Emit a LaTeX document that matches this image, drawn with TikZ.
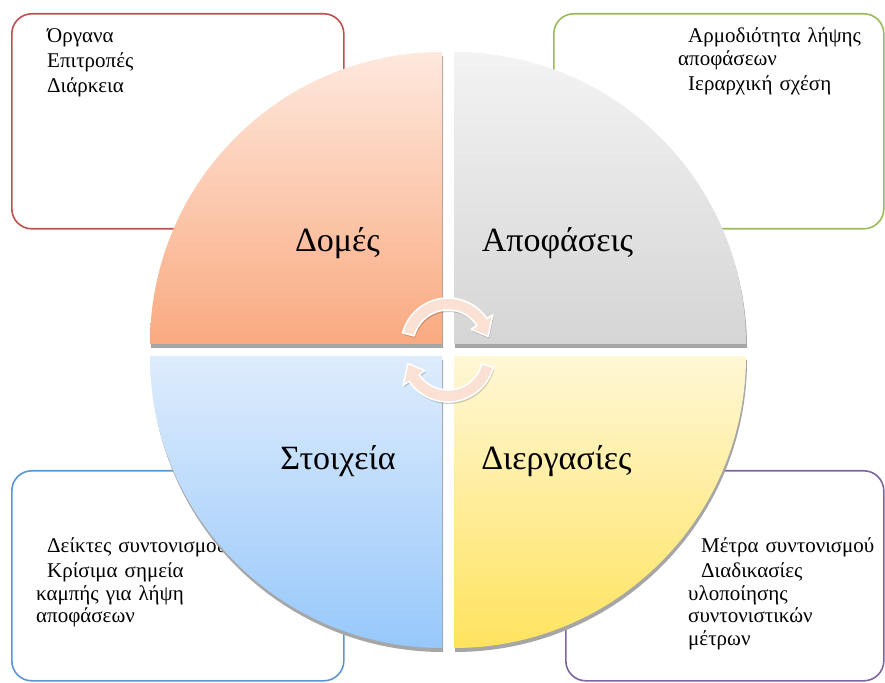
\documentclass[tikz,border=0pt]{standalone}
\usepackage{fontspec}
\setmainfont{Liberation Serif}
\usetikzlibrary{calc}

\definecolor{boxred}{HTML}{C0504D}
\definecolor{boxgreen}{HTML}{9BBB59}
\definecolor{boxblue}{HTML}{5A96D2}
\definecolor{boxpurple}{HTML}{8064A2}
\definecolor{peachTop}{HTML}{FEE8DD}
\definecolor{peachBot}{HTML}{F9AA80}
\definecolor{greyTop}{HTML}{F3F3F3}
\definecolor{greyBot}{HTML}{D5D5D5}
\definecolor{blueTop}{HTML}{DEECFC}
\definecolor{blueBot}{HTML}{97C8FB}
\definecolor{yellowTop}{HTML}{FFF7D6}
\definecolor{yellowBot}{HTML}{FFE35E}
\definecolor{quadshadow}{HTML}{A6A6A6}
\definecolor{arrowfill}{HTML}{FBE0D4}

\tikzset{
  infobox/.style={draw, line width=1.6pt, rounded corners=20pt, fill=white,
    anchor=north west, inner sep=0pt},
  itemtext/.style={anchor=base west, inner sep=0pt, align=left,
    text width=#1, font=\fontsize{21}{22.5}\selectfont},
  quadlabel/.style={anchor=base, inner sep=0pt, font=\fontsize{34}{38}\selectfont},
  cyclearrow/.style={fill=arrowfill, draw=white, line width=1.6pt, line join=round},
  arrowshade/.style={fill=black, opacity=0.18},
}

% one circular arrow, centred at the origin of the current scope
\newcommand{\cyclearrowpath}{%
  (165:47) arc[start angle=165, end angle=34, radius=47]
  -- (34:54) -- (12:41) -- (34:28) -- (34:35)
  arc[start angle=34, end angle=165, radius=35] -- cycle}

\begin{document}
\begin{tikzpicture}[x=1pt, y=1pt]
\useasboundingbox (0,0) rectangle (885,682);

% corner boxes
\node[infobox, draw=boxred, minimum width=332pt, minimum height=215pt] (boxTL) at (11,669) {};
\node[infobox, draw=boxgreen, minimum width=330pt, minimum height=215pt] (boxTR) at (553,669) {};
\node[infobox, draw=boxblue, minimum width=332pt, minimum height=210pt] (boxBL) at (11,212) {};
\node[infobox, draw=boxpurple, minimum width=318pt, minimum height=210pt] (boxBR) at (565,212) {};

% box contents
\node[itemtext=300pt] (txtTL) at (36,639)
  {\hspace*{11pt}Όργανα\\[2.5pt]\hspace*{11pt}Επιτροπές\\[2.5pt]\hspace*{11pt}Διάρκεια};
\node[itemtext=200pt] (txtTR) at (678,639)
  {\hspace*{10pt}Αρμοδιότητα λήψης\\αποφάσεων\\[2.5pt]\hspace*{10pt}Ιεραρχική σχέση};
\node[itemtext=300pt] (txtBL) at (36,129)
  {\hspace*{11pt}Δείκτες συντονισμού\\[2.5pt]\hspace*{11pt}Κρίσιμα σημεία\\καμπής για λήψη\\αποφάσεων};
\node[itemtext=190pt] (txtBR) at (688,129)
  {\hspace*{13pt}Μέτρα συντονισμού\\[2.5pt]\hspace*{13pt}Διαδικασίες\\υλοποίησης\\συντονιστικών\\μέτρων};

% quadrant shadows
\begin{scope}[shift={(1,-4)}]
  \fill[quadshadow] (442,338) -- (150,338) arc[start angle=180, end angle=90, radius=292] -- cycle;
  \fill[quadshadow] (454,338) -- (454,630) arc[start angle=90, end angle=0, radius=292] -- cycle;
  \fill[quadshadow] (442,326) -- (150,326) arc[start angle=180, end angle=270, radius=292] -- cycle;
  \fill[quadshadow] (454,326) -- (746,326) arc[start angle=0, end angle=-90, radius=292] -- cycle;
\end{scope}

% quadrants
\shade[top color=peachTop, bottom color=peachBot]
  (442,338) -- (150,338) arc[start angle=180, end angle=90, radius=292] -- cycle;
\shade[top color=greyTop, bottom color=greyBot]
  (454,338) -- (454,630) arc[start angle=90, end angle=0, radius=292] -- cycle;
\shade[top color=blueTop, bottom color=blueBot]
  (442,326) -- (150,326) arc[start angle=180, end angle=270, radius=292] -- cycle;
\shade[top color=yellowTop, bottom color=yellowBot]
  (454,326) -- (746,326) arc[start angle=0, end angle=-90, radius=292] -- cycle;

% quadrant labels
\node[quadlabel] (lblTL) at (337.5,430) {Δομές};
\node[quadlabel] (lblTR) at (557.5,430) {Αποφάσεις};
\node[quadlabel] (lblBL) at (338,212) {Στοιχεία};
\node[quadlabel] (lblBR) at (556.5,212) {Διεργασίες};

% cycle arrows
\begin{scope}[shift={(449,335)}]
  \path[arrowshade] \cyclearrowpath;
\end{scope}
\begin{scope}[shift={(448,337)}]
  \path[cyclearrow] \cyclearrowpath;
\end{scope}
\begin{scope}[shift={(449,325)}, rotate=180]
  \path[arrowshade] \cyclearrowpath;
\end{scope}
\begin{scope}[shift={(448,327)}, rotate=180]
  \path[cyclearrow] \cyclearrowpath;
\end{scope}
\end{tikzpicture}
\end{document}
